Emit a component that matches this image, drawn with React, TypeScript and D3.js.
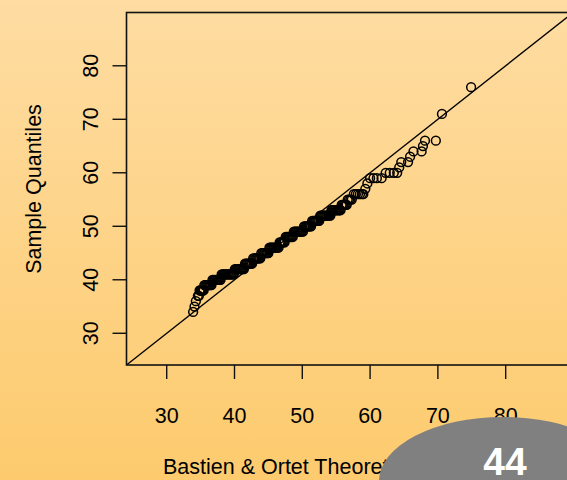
import React, { useRef, useEffect } from 'react';
import * as d3 from 'd3';

const width = 567;
const height = 480;

// sample values (tied levels) and the theoretical quantiles plotted at each level
const sampleLevels = [34, 35, 36, 37, 38, 39, 40, 41, 42, 43, 44, 45, 46, 47, 48, 49, 50, 51, 52, 53, 54, 55, 56, 57, 58, 59, 60, 61, 62, 63, 64, 65, 66, 71, 76];
const theoreticalAtLevel = [
    [33.9],
    [34.1],
    [34.3],
    [34.6, 34.75],
    [34.85, 34.95, 35.05, 35.15, 35.25, 35.35, 35.45],
    [35.55, 35.7, 35.85, 36.0, 36.15, 36.3, 36.45, 36.6],
    [36.75, 36.9, 37.05, 37.2, 37.35, 37.5, 37.65, 37.8, 37.95],
    [38.1, 38.25, 38.4, 38.55, 38.7, 38.85, 39.0, 39.15, 39.3, 39.45, 39.6, 39.75, 39.9],
    [40.05, 40.2, 40.35, 40.5, 40.65, 40.8, 40.95, 41.1, 41.25, 41.4],
    [41.55, 41.7, 41.85, 42.0, 42.15, 42.3, 42.45, 42.6],
    [42.75, 42.9, 43.05, 43.2, 43.35, 43.5, 43.65, 43.8],
    [43.95, 44.1, 44.25, 44.4, 44.55, 44.7, 44.85, 45.0],
    [45.15, 45.3, 45.45, 45.6, 45.75, 45.9, 46.05, 46.2, 46.35, 46.5],
    [46.65, 46.8, 46.95, 47.1, 47.25, 47.4],
    [47.55, 47.7, 47.85, 48.0, 48.15, 48.3, 48.45, 48.6],
    [48.75, 48.9, 49.05, 49.2, 49.35, 49.5, 49.65, 49.8, 49.95, 50.1],
    [50.25, 50.4, 50.55, 50.7, 50.85, 51.0, 51.15, 51.3],
    [51.45, 51.6, 51.75, 51.9, 52.05, 52.2, 52.35, 52.5],
    [52.65, 52.8, 52.95, 53.1, 53.25, 53.4, 53.55, 53.7, 53.85, 54.0, 54.15],
    [54.3, 54.45, 54.6, 54.75, 54.9, 55.05, 55.2, 55.35, 55.5, 55.65],
    [55.8, 55.95, 56.1, 56.25, 56.4, 56.55],
    [56.7, 56.9, 57.1, 57.3],
    [57.6, 57.9, 58.2, 58.5, 58.8, 59.0],
    [59.3],
    [59.6],
    [60.0, 60.5, 61.0, 61.7],
    [62.3, 62.9, 63.5, 64.0],
    [64.3],
    [64.6, 65.6],
    [65.9],
    [66.4, 67.6],
    [67.8],
    [68.1, 69.7],
    [70.6],
    [74.9],
];
const xTicks = [30, 40, 50, 60, 70, 80];
const yTicks = [30, 40, 50, 60, 70, 80];
const xTitle = 'Bastien & Ortet Theoretical Quantiles';
const yTitle = 'Sample Quantiles';
const pageLabel = '44';

const font = '"Liberation Sans", Arial, sans-serif';

const App = () => {
    const svgRef = useRef(null);

    useEffect(() => {
        const svg = d3.select(svgRef.current);
        svg.selectAll('*').remove();

        const box = { left: 126.5, top: 12.5, right: 573.2, bottom: 365 };
        const lim = [24.07, 89.96];

        const x = d3.scaleLinear().domain(lim).range([box.left, box.right]);
        const y = d3.scaleLinear().domain(lim).range([box.bottom, box.top]);

        const points = sampleLevels.flatMap((s, i) => theoreticalAtLevel[i].map((t) => ({ t, s })));

        // background gradient
        const defs = svg.append('defs');
        const grad = defs.append('linearGradient').attr('id', 'bg').attr('x1', 0).attr('y1', 0).attr('x2', 0).attr('y2', 1);
        grad.append('stop').attr('offset', '0%').attr('stop-color', '#FEDCA2');
        grad.append('stop').attr('offset', '100%').attr('stop-color', '#FDCB6E');
        defs.append('clipPath')
            .attr('id', 'plotClip')
            .append('rect')
            .attr('x', box.left)
            .attr('y', box.top)
            .attr('width', box.right - box.left)
            .attr('height', box.bottom - box.top);

        svg.append('rect').attr('width', width).attr('height', height).attr('fill', 'url(#bg)');

        const plot = svg.append('g').attr('clip-path', 'url(#plotClip)');

        // reference line y = x
        plot.append('line')
            .attr('x1', x(lim[0]))
            .attr('y1', y(lim[0]))
            .attr('x2', x(lim[1]))
            .attr('y2', y(lim[1]))
            .attr('stroke', '#000')
            .attr('stroke-width', 1.3);

        // points
        plot.selectAll('circle')
            .data(points)
            .join('circle')
            .attr('cx', (d) => x(d.t))
            .attr('cy', (d) => y(d.s))
            .attr('r', 4.4)
            .attr('fill', 'none')
            .attr('stroke', '#000')
            .attr('stroke-width', 1.5);

        // box
        svg.append('rect')
            .attr('x', box.left)
            .attr('y', box.top)
            .attr('width', box.right - box.left)
            .attr('height', box.bottom - box.top)
            .attr('fill', 'none')
            .attr('stroke', '#111')
            .attr('stroke-width', 1.6);

        // x axis
        const xAxis = svg.append('g');
        xAxis.selectAll('line')
            .data(xTicks)
            .join('line')
            .attr('x1', (d) => x(d))
            .attr('x2', (d) => x(d))
            .attr('y1', box.bottom)
            .attr('y2', box.bottom + 14)
            .attr('stroke', '#111')
            .attr('stroke-width', 1.4);
        xAxis.selectAll('text')
            .data(xTicks)
            .join('text')
            .attr('x', (d) => x(d))
            .attr('y', 422.5)
            .attr('text-anchor', 'middle')
            .attr('font-family', font)
            .attr('font-size', 21.5)
            .text((d) => d);

        // y axis
        const yAxis = svg.append('g');
        yAxis.selectAll('line')
            .data(yTicks)
            .join('line')
            .attr('x1', box.left - 14)
            .attr('x2', box.left)
            .attr('y1', (d) => y(d))
            .attr('y2', (d) => y(d))
            .attr('stroke', '#111')
            .attr('stroke-width', 1.4);
        yAxis.selectAll('text')
            .data(yTicks)
            .join('text')
            .attr('transform', (d) => `translate(98,${y(d)}) rotate(-90)`)
            .attr('text-anchor', 'middle')
            .attr('font-family', font)
            .attr('font-size', 21.5)
            .text((d) => d);

        // titles
        svg.append('text')
            .attr('x', 163)
            .attr('y', 474)
            .attr('font-family', font)
            .attr('font-size', 21.5)
            .text(xTitle);
        svg.append('text')
            .attr('transform', 'translate(41,189) rotate(-90)')
            .attr('text-anchor', 'middle')
            .attr('font-family', font)
            .attr('font-size', 21.5)
            .text(yTitle);

        // page number badge
        svg.append('ellipse')
            .attr('cx', 503)
            .attr('cy', 481)
            .attr('rx', 124)
            .attr('ry', 64)
            .attr('fill', '#808080');
        svg.append('text')
            .attr('x', 505)
            .attr('y', 475)
            .attr('text-anchor', 'middle')
            .attr('font-family', font)
            .attr('font-weight', 'bold')
            .attr('font-size', 39)
            .attr('fill', '#fff')
            .text(pageLabel);
    }, []);

    return (
        <div style={{ position: 'absolute', left: 0, top: 0, width, height }}>
            <svg ref={svgRef} width={width} height={height} style={{ display: 'block' }} />
        </div>
    );
};

export default App;
